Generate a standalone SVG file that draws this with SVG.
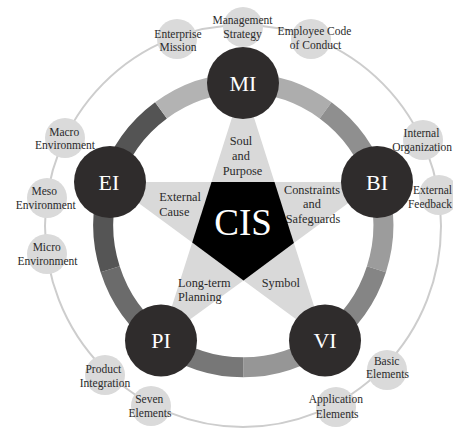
<svg xmlns="http://www.w3.org/2000/svg" width="453" height="430" viewBox="0 0 453 430">
  <style>
    text { font-family: "Liberation Serif", "Times New Roman", serif; text-anchor: middle; }
    .sub { font-size: 11.5px; fill: #2a2a2a; }
    .arm { font-size: 12.3px; fill: #2a2a2a; }
    .left { text-anchor: start; }
    .right { text-anchor: end; }
    .node-label { font-size: 22px; fill: #ffffff; }
    .core-label { font-size: 37px; fill: #ffffff; }
    .bubble { fill: #dadada; }
    .node { fill: #2f2c2c; }
    .seg { fill: none; stroke-width: 20; }
  </style>

  <rect width="453" height="430" fill="#ffffff"/>

  <!-- outer orbit -->
  <g id="connectors">
    <ellipse cx="243" cy="226" rx="198" ry="201" fill="none" stroke="#cdcdcd" stroke-width="2"/>
  </g>

  <!-- orbit bubbles -->
  <g id="enterprise-mission"><circle class="bubble" cx="177" cy="39" r="20"/>
    <text class="sub" x="178" y="37.5">Enterprise</text><text class="sub" x="178" y="51">Mission</text></g>
  <g id="management-strategy"><circle class="bubble" cx="243" cy="27" r="20"/>
    <text class="sub" x="242.5" y="24">Management</text><text class="sub" x="242.5" y="37.5">Strategy</text></g>
  <g id="employee-code"><circle class="bubble" cx="311" cy="39" r="20"/>
    <text class="sub" x="314.5" y="35">Employee Code</text><text class="sub" x="315.5" y="48.5">of Conduct</text></g>
  <g id="internal-organization"><circle class="bubble" cx="423" cy="140" r="20"/>
    <text class="sub" x="421.5" y="136.5">Internal</text><text class="sub right" x="452" y="150.5">Organization</text></g>
  <g id="external-feedback"><circle class="bubble" cx="439" cy="195" r="20"/>
    <text class="sub right" x="452" y="194">External</text><text class="sub right" x="452" y="207.5">Feedback</text></g>
  <g id="macro-environment"><circle class="bubble" cx="65" cy="138" r="20"/>
    <text class="sub" x="64.2" y="135.5">Macro</text><text class="sub" x="65" y="148.5">Environment</text></g>
  <g id="meso-environment"><circle class="bubble" cx="47" cy="198" r="20"/>
    <text class="sub" x="44.2" y="194.5">Meso</text><text class="sub" x="45.8" y="209">Environment</text></g>
  <g id="micro-environment"><circle class="bubble" cx="47" cy="254" r="20"/>
    <text class="sub" x="46.7" y="250.5">Micro</text><text class="sub" x="47.5" y="264.5">Environment</text></g>
  <g id="product-integration"><circle class="bubble" cx="105" cy="375" r="20"/>
    <text class="sub" x="103.3" y="373">Product</text><text class="sub" x="105" y="386.5">Integration</text></g>
  <g id="seven-elements"><circle class="bubble" cx="151" cy="406" r="20"/>
    <text class="sub" x="149.2" y="403">Seven</text><text class="sub" x="150" y="417">Elements</text></g>
  <g id="basic-elements"><circle class="bubble" cx="387" cy="370" r="20"/>
    <text class="sub" x="386.7" y="364.5">Basic</text><text class="sub" x="387.5" y="378">Elements</text></g>
  <g id="application-elements"><circle class="bubble" cx="336" cy="407" r="20"/>
    <text class="sub" x="335.8" y="403">Application</text><text class="sub" x="337.2" y="418">Elements</text></g>

  <!-- segmented ring -->
  <g id="ring">
    <path class="seg" stroke="#adadad" d="M243.3 83.3 A140 142 0 0 1 325.59 110.42"/>
    <path class="seg" stroke="#8f8f8f" d="M325.59 110.42 A140 142 0 0 1 376.45 181.42"/>
    <path class="seg" stroke="#9c9c9c" d="M376.45 181.42 A140 142 0 0 1 376.45 269.18"/>
    <path class="seg" stroke="#858585" d="M376.45 269.18 A140 142 0 0 1 325.59 340.18"/>
    <path class="seg" stroke="#969696" d="M325.59 340.18 A140 142 0 0 1 243.3 367.3"/>
    <path class="seg" stroke="#777777" d="M243.3 367.3 A140 142 0 0 1 161.01 340.18"/>
    <path class="seg" stroke="#6b6b6b" d="M161.01 340.18 A140 142 0 0 1 110.15 269.18"/>
    <path class="seg" stroke="#555555" d="M110.15 269.18 A140 142 0 0 1 110.15 181.42"/>
    <path class="seg" stroke="#545454" d="M110.15 181.42 A140 142 0 0 1 161.01 110.42"/>
    <path class="seg" stroke="#b3b3b3" d="M161.01 110.42 A140 142 0 0 1 243.3 83.3"/>
  </g>

  <!-- star and core -->
  <g id="star">
    <polygon fill="#d9d9d9" points="243,83 274.5,182 377,182 293.9,243 325,340.5 243.5,280.4 161,340.5 192.2,242.6 110,182 211.5,182"/>
    <text class="arm" x="241" y="145">Soul</text>
    <text class="arm" x="241" y="160">and</text>
    <text class="arm" x="242.5" y="175">Purpose</text>
    <text class="arm left" x="159.3" y="201">External</text>
    <text class="arm left" x="159.3" y="216">Cause</text>
    <text class="arm" x="312" y="193.5">Constraints</text>
    <text class="arm" x="312" y="208">and</text>
    <text class="arm" x="313" y="223">Safeguards</text>
    <text class="arm left" x="178" y="287">Long-term</text>
    <text class="arm left" x="178" y="301">Planning</text>
    <text class="arm left" x="261.7" y="287">Symbol</text>
  </g>
  <g id="cis">
    <polygon fill="#000000" points="211.5,182 274.5,182 293.9,243 243.5,280.4 192.2,242.6"/>
    <text class="core-label" x="243" y="234.5">CIS</text>
  </g>

  <!-- main nodes -->
  <g id="mi"><circle class="node" cx="243" cy="83" r="36"/><text class="node-label" x="243" y="90.5">MI</text></g>
  <g id="bi"><circle class="node" cx="377" cy="182" r="36"/><text class="node-label" x="377" y="189.5">BI</text></g>
  <g id="vi"><circle class="node" cx="325" cy="340.5" r="36"/><text class="node-label" x="325" y="348">VI</text></g>
  <g id="pi"><circle class="node" cx="161" cy="340.5" r="36"/><text class="node-label" x="161" y="348">PI</text></g>
  <g id="ei"><circle class="node" cx="110" cy="182" r="36"/><text class="node-label" x="109" y="189.5">EI</text></g>
</svg>
